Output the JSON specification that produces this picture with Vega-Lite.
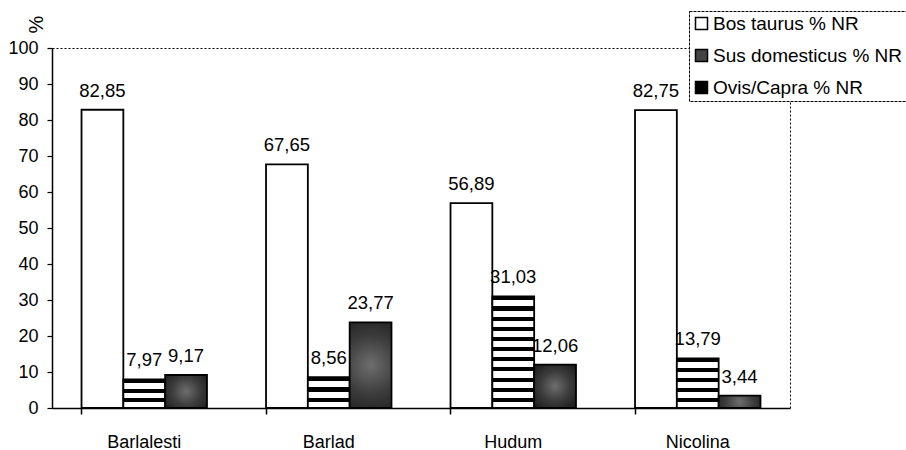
{
  "$schema": "https://vega.github.io/schema/vega-lite/v6.json",
  "width": 738,
  "height": 360,
  "autosize": "none",
  "padding": {"left": 52, "top": 48, "right": 116, "bottom": 42},
  "background": "white",
  "config": {
    "font": "Liberation Sans",
    "locale": {"number": {"decimal": ",", "thousands": ".", "grouping": [3], "currency": ["", ""]}},
    "view": {"stroke": "black", "strokeDash": [2, 2], "strokeWidth": 1}
  },
  "data": {
    "values": [
      {"site": "Barlalesti", "species": "Bos taurus % NR", "value": 82.85},
      {"site": "Barlalesti", "species": "Sus domesticus % NR", "value": 7.97},
      {"site": "Barlalesti", "species": "Ovis/Capra % NR", "value": 9.17},
      {"site": "Barlad", "species": "Bos taurus % NR", "value": 67.65},
      {"site": "Barlad", "species": "Sus domesticus % NR", "value": 8.56},
      {"site": "Barlad", "species": "Ovis/Capra % NR", "value": 23.77},
      {"site": "Hudum", "species": "Bos taurus % NR", "value": 56.89},
      {"site": "Hudum", "species": "Sus domesticus % NR", "value": 31.03},
      {"site": "Hudum", "species": "Ovis/Capra % NR", "value": 12.06},
      {"site": "Nicolina", "species": "Bos taurus % NR", "value": 82.75},
      {"site": "Nicolina", "species": "Sus domesticus % NR", "value": 13.79},
      {"site": "Nicolina", "species": "Ovis/Capra % NR", "value": 3.44}
    ]
  },
  "encoding": {
    "x": {
      "field": "site", "type": "nominal",
      "sort": ["Barlalesti", "Barlad", "Hudum", "Nicolina"],
      "scale": {"paddingInner": 0.32, "paddingOuter": 0.16},
      "axis": {
        "title": null, "labelAngle": 0, "labelFontSize": 18, "labelColor": "black",
        "labelPadding": 19, "domainColor": "black", "domainWidth": 1.5,
        "tickColor": "black", "tickSize": 6, "bandPosition": 0, "tickWidth": 1.5, "grid": false
      }
    },
    "xOffset": {"field": "species", "type": "nominal", "sort": ["Bos taurus % NR", "Sus domesticus % NR", "Ovis/Capra % NR"]},
    "y": {
      "field": "value", "type": "quantitative",
      "scale": {"domain": [0, 100], "nice": false},
      "axis": {
        "values": [0, 10, 20, 30, 40, 50, 60, 70, 80, 90, 100],
        "title": "%", "titleAngle": 270, "titleX": -16, "titleY": -24,
        "titleAlign": "center", "titleBaseline": "middle", "titleFontSize": 20,
        "titleFontWeight": "normal", "titleColor": "black",
        "labelFontSize": 18, "labelColor": "black", "labelPadding": 9,
        "domainColor": "black", "domainWidth": 1.5, "tickColor": "black", "tickSize": 5,
        "tickWidth": 1.2, "grid": false
      }
    }
  },
  "layer": [
    {
      "mark": {"type": "bar", "stroke": "black", "strokeWidth": 1.8},
      "encoding": {
        "fill": {
          "field": "species", "type": "nominal",
          "sort": ["Bos taurus % NR", "Sus domesticus % NR", "Ovis/Capra % NR"],
          "scale": {
            "domain": ["Bos taurus % NR", "Sus domesticus % NR", "Ovis/Capra % NR"],
            "range": ["white", "#444444", "black"]
          },
          "legend": {
            "title": null, "orient": "none", "legendX": 637, "legendY": -37,
            "labelFontSize": 19, "labelColor": "black", "labelOffset": 2,
            "symbolType": "square", "symbolSize": 144, "symbolStrokeColor": "black", "symbolStrokeWidth": 1.5,
            "rowPadding": 12, "padding": 3,
            "strokeColor": "black", "fillColor": "white", "labelLimit": 400,
            "encode": {
              "legend": {"update": {"strokeDash": {"value": [3, 1]}}}
            }
          },
          "condition": [
            {"test": "datum.species === 'Sus domesticus % NR' && datum.site === 'Hudum'",
             "value": {"gradient": "linear", "x1": 0, "y1": 0, "x2": 0, "y2": 1, "stops": [
               {"offset": 0, "color": "black"}, {"offset": 0.0364, "color": "black"}, {"offset": 0.0364, "color": "white"}, {"offset": 0.0909, "color": "white"},
               {"offset": 0.0909, "color": "black"}, {"offset": 0.1273, "color": "black"}, {"offset": 0.1273, "color": "white"}, {"offset": 0.1818, "color": "white"},
               {"offset": 0.1818, "color": "black"}, {"offset": 0.2182, "color": "black"}, {"offset": 0.2182, "color": "white"}, {"offset": 0.2727, "color": "white"},
               {"offset": 0.2727, "color": "black"}, {"offset": 0.3091, "color": "black"}, {"offset": 0.3091, "color": "white"}, {"offset": 0.3636, "color": "white"},
               {"offset": 0.3636, "color": "black"}, {"offset": 0.4, "color": "black"}, {"offset": 0.4, "color": "white"}, {"offset": 0.4545, "color": "white"},
               {"offset": 0.4545, "color": "black"}, {"offset": 0.4909, "color": "black"}, {"offset": 0.4909, "color": "white"}, {"offset": 0.5455, "color": "white"},
               {"offset": 0.5455, "color": "black"}, {"offset": 0.5818, "color": "black"}, {"offset": 0.5818, "color": "white"}, {"offset": 0.6364, "color": "white"},
               {"offset": 0.6364, "color": "black"}, {"offset": 0.6727, "color": "black"}, {"offset": 0.6727, "color": "white"}, {"offset": 0.7273, "color": "white"},
               {"offset": 0.7273, "color": "black"}, {"offset": 0.7636, "color": "black"}, {"offset": 0.7636, "color": "white"}, {"offset": 0.8182, "color": "white"},
               {"offset": 0.8182, "color": "black"}, {"offset": 0.8545, "color": "black"}, {"offset": 0.8545, "color": "white"}, {"offset": 0.9091, "color": "white"},
               {"offset": 0.9091, "color": "black"}, {"offset": 0.9455, "color": "black"}, {"offset": 0.9455, "color": "white"}, {"offset": 1, "color": "white"}]}},
            {"test": "datum.species === 'Sus domesticus % NR' && datum.site === 'Nicolina'",
             "value": {"gradient": "linear", "x1": 0, "y1": 0, "x2": 0, "y2": 1, "stops": [
               {"offset": 0, "color": "black"}, {"offset": 0.08, "color": "black"}, {"offset": 0.08, "color": "white"}, {"offset": 0.2, "color": "white"},
               {"offset": 0.2, "color": "black"}, {"offset": 0.28, "color": "black"}, {"offset": 0.28, "color": "white"}, {"offset": 0.4, "color": "white"},
               {"offset": 0.4, "color": "black"}, {"offset": 0.48, "color": "black"}, {"offset": 0.48, "color": "white"}, {"offset": 0.6, "color": "white"},
               {"offset": 0.6, "color": "black"}, {"offset": 0.68, "color": "black"}, {"offset": 0.68, "color": "white"}, {"offset": 0.8, "color": "white"},
               {"offset": 0.8, "color": "black"}, {"offset": 0.88, "color": "black"}, {"offset": 0.88, "color": "white"}, {"offset": 1, "color": "white"}]}},
            {"test": "datum.species === 'Sus domesticus % NR'",
             "value": {"gradient": "linear", "x1": 0, "y1": 0, "x2": 0, "y2": 1, "stops": [
               {"offset": 0, "color": "black"}, {"offset": 0.133, "color": "black"}, {"offset": 0.133, "color": "white"}, {"offset": 0.333, "color": "white"},
               {"offset": 0.333, "color": "black"}, {"offset": 0.467, "color": "black"}, {"offset": 0.467, "color": "white"}, {"offset": 0.667, "color": "white"},
               {"offset": 0.667, "color": "black"}, {"offset": 0.8, "color": "black"}, {"offset": 0.8, "color": "white"}, {"offset": 1, "color": "white"}]}},
            {"test": "datum.species === 'Ovis/Capra % NR'",
             "value": {"gradient": "radial", "x1": 0.5, "y1": 0.5, "r1": 0, "x2": 0.5, "y2": 0.5, "r2": 0.75, "stops": [
               {"offset": 0, "color": "#6e6e6e"}, {"offset": 0.45, "color": "#3c3c3c"}, {"offset": 1, "color": "#121212"}]}}
          ]
        }
      }
    },
    {
      "mark": {"type": "text", "baseline": "alphabetic", "dy": -13, "fontSize": 18.5, "color": "black"},
      "encoding": {
        "text": {"field": "value", "type": "quantitative", "format": ".2f"}
      }
    }
  ]
}
